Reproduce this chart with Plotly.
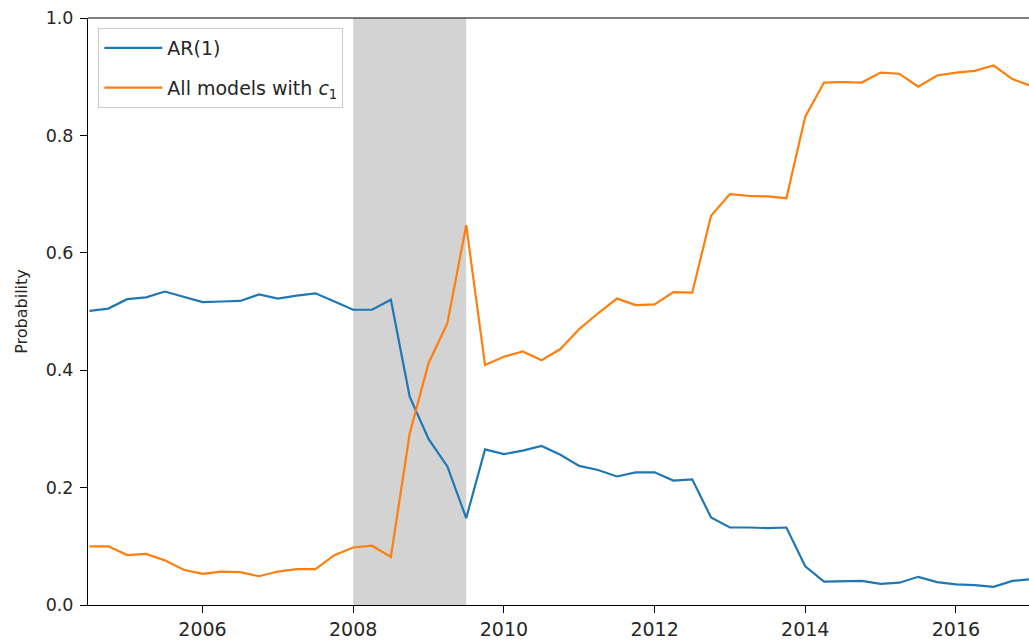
import plotly.graph_objects as go

quarters = [2004.5 + 0.25 * i for i in range(51)]

ar1 = [0.501, 0.505, 0.521, 0.524, 0.534, 0.525, 0.516, 0.517, 0.518, 0.529,
       0.522, 0.527, 0.531, 0.517, 0.503, 0.503, 0.520,
       0.355, 0.283, 0.236, 0.148, 0.265, 0.257, 0.263, 0.271, 0.256,
       0.237, 0.230, 0.219, 0.226, 0.226, 0.212, 0.214,
       0.149, 0.132, 0.132, 0.131, 0.132, 0.066, 0.040, 0.040, 0.041,
       0.036, 0.038, 0.048, 0.039, 0.035, 0.034, 0.031,
       0.041, 0.044]

c1_models = [0.100, 0.100, 0.085, 0.087, 0.076, 0.060, 0.053, 0.057, 0.056, 0.049,
             0.057, 0.061, 0.061, 0.085, 0.098, 0.101, 0.082,
             0.292, 0.412, 0.480, 0.647, 0.409, 0.423, 0.432, 0.417, 0.436,
             0.470, 0.497, 0.522, 0.511, 0.512, 0.533, 0.532,
             0.663, 0.700, 0.697, 0.696, 0.693, 0.832, 0.890, 0.891, 0.890,
             0.907, 0.905, 0.883, 0.902, 0.907, 0.910, 0.919,
             0.896, 0.884]

recession = [2008.0, 2009.5]
x_ticks = [2006, 2008, 2010, 2012, 2014, 2016]
x_tick_labels = ["2006", "2008", "2010", "2012", "2014", "2016"]
y_ticks = [0.0, 0.2, 0.4, 0.6, 0.8, 1.0]

fig = go.Figure()
fig.add_trace(go.Scatter(x=quarters, y=ar1, mode="lines", name="AR(1)",
                         legendgroup="a",
                         line=dict(color="#1f77b4", width=2.2)))
fig.add_trace(go.Scatter(x=quarters, y=c1_models, mode="lines",
                         name="All models with <i>c</i><sub>1</sub>",
                         legendgroup="b",
                         line=dict(color="#ff7f0e", width=2.2)))

fig.add_vrect(x0=recession[0], x1=recession[1], fillcolor="#d3d3d3", opacity=1,
              line_width=0, layer="below")
# top spine
fig.add_shape(type="line", xref="paper", yref="paper", x0=0, x1=1, y0=1, y1=1,
              line=dict(color="black", width=1))

fig.update_layout(
    width=1029, height=644,
    margin=dict(l=88, r=0, t=18, b=39),
    plot_bgcolor="white", paper_bgcolor="white",
    font=dict(family="DejaVu Sans", size=17, color="#262626"),
    showlegend=True,
    legend=dict(x=0.011, y=0.983, xanchor="left", yanchor="top",
                bgcolor="rgba(255,255,255,0.8)", bordercolor="#cccccc", borderwidth=1,
                font=dict(size=19, color="#262626"), tracegroupgap=12,
                itemwidth=58),
)
fig.update_xaxes(range=[2004.48, 2016.97], showgrid=False, zeroline=False,
                 showline=True, linecolor="black", linewidth=1,
                 ticks="outside", ticklen=7, tickcolor="black",
                 tickfont=dict(size=19),
                 tickvals=x_ticks, ticktext=x_tick_labels)
fig.update_yaxes(range=[0, 1], showgrid=False, zeroline=False,
                 showline=True, linecolor="black", linewidth=1,
                 ticks="outside", ticklen=7, tickcolor="black",
                 tickfont=dict(size=17.5), ticklabelstandoff=3,
                 tickvals=y_ticks, tickformat=".1f",
                 title=dict(text="Probability", font=dict(size=16), standoff=14))

fig.write_html("out.html")
